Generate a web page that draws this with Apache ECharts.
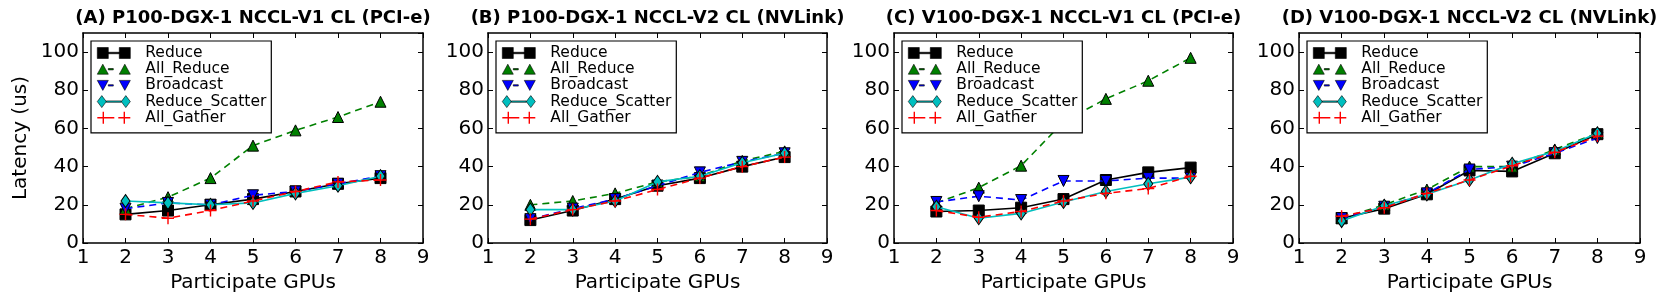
<!DOCTYPE html>
<html><head><meta charset="utf-8">
<script src="https://cdn.jsdelivr.net/npm/echarts@6/dist/echarts.min.js"></script>
<style>html,body{margin:0;padding:0;background:#fff}#c{width:1661px;height:308px}</style>
</head><body><div id="c"></div>
<script>
// ---------- data ----------
const gpus = [2, 3, 4, 5, 6, 7, 8];
const seriesNames = ['Reduce', 'All_Reduce', 'Broadcast', 'Reduce_Scatter', 'All_Gather'];
const panelTitles = [
  '(A) P100-DGX-1 NCCL-V1 CL (PCI-e)',
  '(B) P100-DGX-1 NCCL-V2 CL (NVLink)',
  '(C) V100-DGX-1 NCCL-V1 CL (PCI-e)',
  '(D) V100-DGX-1 NCCL-V2 CL (NVLink)'
];
const xAxisName = 'Participate GPUs';
const yAxisName = 'Latency (us)';

// (A) P100 NCCL-V1 PCI-e
const A_Reduce        = [15, 17, 20, 23, 27, 31, 34];
const A_AllReduce     = [18, 24, 34, 51, 59, 66, 74];
const A_Broadcast     = [18, 21, 20, 25, 27, 31, 35];
const A_ReduceScatter = [22, 21, 20, 21, 26, 30, 35];
const A_AllGather     = [15, 13, 17, 22, 27, 32, 33];
// (B) P100 NCCL-V2 NVLink
const B_Reduce        = [12, 17, 23, 30, 34, 40, 45];
const B_AllReduce     = [20, 22, 26, 32, 35, 43, 48];
const B_Broadcast     = [12.5, 18, 23, 30, 37, 42.5, 47];
const B_ReduceScatter = [17.5, 17.5, 22, 32, 35, 42, 47];
const B_AllGather     = [12.5, 17.5, 22, 28, 34, 40, 45];
// (C) V100 NCCL-V1 PCI-e
const C_Reduce        = [16.5, 17, 18.5, 23, 33, 37, 39.5];
const C_AllReduce     = [21, 29, 40.5, 63.5, 75.5, 85, 97];
const C_Broadcast     = [21.5, 24.5, 22.5, 32.5, 32.5, 34, 34];
const C_ReduceScatter = [19, 13, 15.5, 21.5, 27, 31, 34.5];
const C_AllGather     = [17, 13.5, 16.5, 22, 26, 28.5, 35];
// (D) V100 NCCL-V2 NVLink
const D_Reduce        = [13, 18, 25.5, 38, 37.5, 47, 57];
const D_AllReduce     = [13, 20, 28, 40, 40, 49, 57.5];
const D_Broadcast     = [13, 19, 26, 38.5, 40, 47, 55];
const D_ReduceScatter = [11.5, 19.5, 25.5, 33, 41.5, 48, 57.5];
const D_AllGather     = [14, 18.5, 26, 33, 40.5, 47.5, 56];

const panelData = [
  [A_Reduce, A_AllReduce, A_Broadcast, A_ReduceScatter, A_AllGather],
  [B_Reduce, B_AllReduce, B_Broadcast, B_ReduceScatter, B_AllGather],
  [C_Reduce, C_AllReduce, C_Broadcast, C_ReduceScatter, C_AllGather],
  [D_Reduce, D_AllReduce, D_Broadcast, D_ReduceScatter, D_AllGather]
];

// ---------- styles ----------
const FONT = 'DejaVu Sans';
const gridLeft = [83, 488, 894, 1299];
const gridWidth = [340, 339, 339, 341];
const GRID_TOP = 33, GRID_H = 210;

const PLUS = 'path://M0 5.3H12V6.7H0ZM5.3 0H6.7V12H5.3Z';
const TRI_DOWN = 'path://M0 0H10L5 9Z';
const styles = [
  {color: '#000000', symbol: 'rect', size: 11, dash: 'solid', border: 1,
   icon: 'path://M0 0.5H11V11.5H0ZM11 5.25H22V6.75H11ZM22 0.5H33V11.5H22Z'},
  {color: '#008000', symbol: 'triangle', size: 11, dash: [7, 5], border: 1,
   icon: 'path://M0 11L5.5 1L11 11ZM11 5.3H16V6.7H11ZM22 11L27.5 1L33 11Z'},
  {color: '#0000ff', symbol: TRI_DOWN, size: 11, dash: [7, 5], border: 1,
   icon: 'path://M0 1H11L5.5 11ZM11 5.3H16V6.7H11ZM22 1H33L27.5 11Z'},
  {color: '#00bfbf', symbol: 'diamond', size: [9, 13], dash: 'solid', border: 1,
   icon: 'path://M0 6L4.5 0L9 6L4.5 12ZM9 5.3H24V6.7H9ZM24 6L28.5 0L33 6L28.5 12Z'},
  {color: '#ff0000', symbol: PLUS, size: 12, dash: [7, 5], border: 0,
   icon: 'path://M0 5.3H12V6.7H0ZM5.3 0H6.7V12H5.3ZM12 5.3H17V6.7H12ZM21 5.3H33V6.7H21ZM26.3 0H27.7V12H26.3Z'}
];

const axisLine = {show: true, onZero: false, lineStyle: {color: '#000', width: 1.5}};
const axisTick = {show: true, inside: true, length: 5, lineStyle: {color: '#000', width: 1}};

const grids = [], xAxes = [], yAxes = [], series = [], legends = [], titles = [];

panelData.forEach((pd, i) => {
  grids.push({left: gridLeft[i], top: GRID_TOP, width: gridWidth[i], height: GRID_H,
              containLabel: false, outerBoundsMode: 'none'});
  titles.push({text: panelTitles[i], left: gridLeft[i] + gridWidth[i] / 2, top: 9,
               textAlign: 'center', padding: 0,
               textStyle: {fontFamily: FONT, fontSize: 18, fontWeight: 'bold', color: '#000'}});
  xAxes.push({gridIndex: i, type: 'value', min: 1, max: 9, interval: 1, position: 'bottom',
    axisLine, axisTick, splitLine: {show: false},
    axisLabel: {color: '#000', fontSize: 20, fontFamily: FONT, margin: 5},
    name: xAxisName, nameLocation: 'middle', nameGap: 24,
    nameTextStyle: {color: '#000', fontSize: 20, fontFamily: FONT}});
  xAxes.push({gridIndex: i, type: 'value', min: 1, max: 9, interval: 1, position: 'top',
    axisLine, axisTick, splitLine: {show: false}, axisLabel: {show: false}});
  const yl = {gridIndex: i, type: 'value', min: 0, max: 110, interval: 20, position: 'left',
    axisLine, axisTick, splitLine: {show: false},
    axisLabel: {color: '#000', fontSize: 20, fontFamily: FONT, margin: 4, showMaxLabel: false}};
  if (i === 0) {
    yl.name = yAxisName; yl.nameLocation = 'middle'; yl.nameGap = 52;
    yl.nameTextStyle = {color: '#000', fontSize: 20, fontFamily: FONT};
  }
  yAxes.push(yl);
  yAxes.push({gridIndex: i, type: 'value', min: 0, max: 110, interval: 20, position: 'right',
    axisLine, axisTick, splitLine: {show: false}, axisLabel: {show: false}});

  pd.forEach((vals, s) => {
    const st = styles[s];
    series.push({
      type: 'line', name: seriesNames[s], xAxisIndex: 2 * i, yAxisIndex: 2 * i,
      data: gpus.map((g, k) => [g, vals[k]]),
      symbol: st.symbol, symbolSize: st.size, showAllSymbol: true,
      color: st.color,
      lineStyle: {color: st.color, width: 1.6, type: st.dash},
      itemStyle: {color: st.color, borderColor: '#000', borderWidth: st.border, opacity: 1},
      emphasis: {disabled: true}, z: 2 + s * 0.01
    });
  });

  legends.push({
    left: gridLeft[i] + 8, top: 41, orient: 'vertical',
    backgroundColor: '#fff', borderColor: '#000', borderWidth: 1.2,
    padding: [4, 5, 7, 6], itemGap: 0.2, itemWidth: 33, itemHeight: 12,
    selectedMode: false,
    formatter: n => '{t|' + n + '}',
    textStyle: {fontFamily: FONT, fontSize: 15.5, color: '#000', lineHeight: 16,
      rich: {t: {fontFamily: FONT, fontSize: 15.5, color: '#000', lineHeight: 16, padding: [0, 0, 0, 10]}}},
    data: seriesNames.map((n, s) => ({
      name: n, icon: styles[s].icon,
      itemStyle: {color: styles[s].color, borderColor: '#000', borderWidth: styles[s].border ? 0.6 : 0}
    }))
  });
});

const chart = echarts.init(document.getElementById('c'), null, {renderer: 'canvas'});
chart.setOption({
  animation: false,
  backgroundColor: '#fff',
  title: titles, grid: grids, xAxis: xAxes, yAxis: yAxes, legend: legends, series: series
});
</script></body></html>
